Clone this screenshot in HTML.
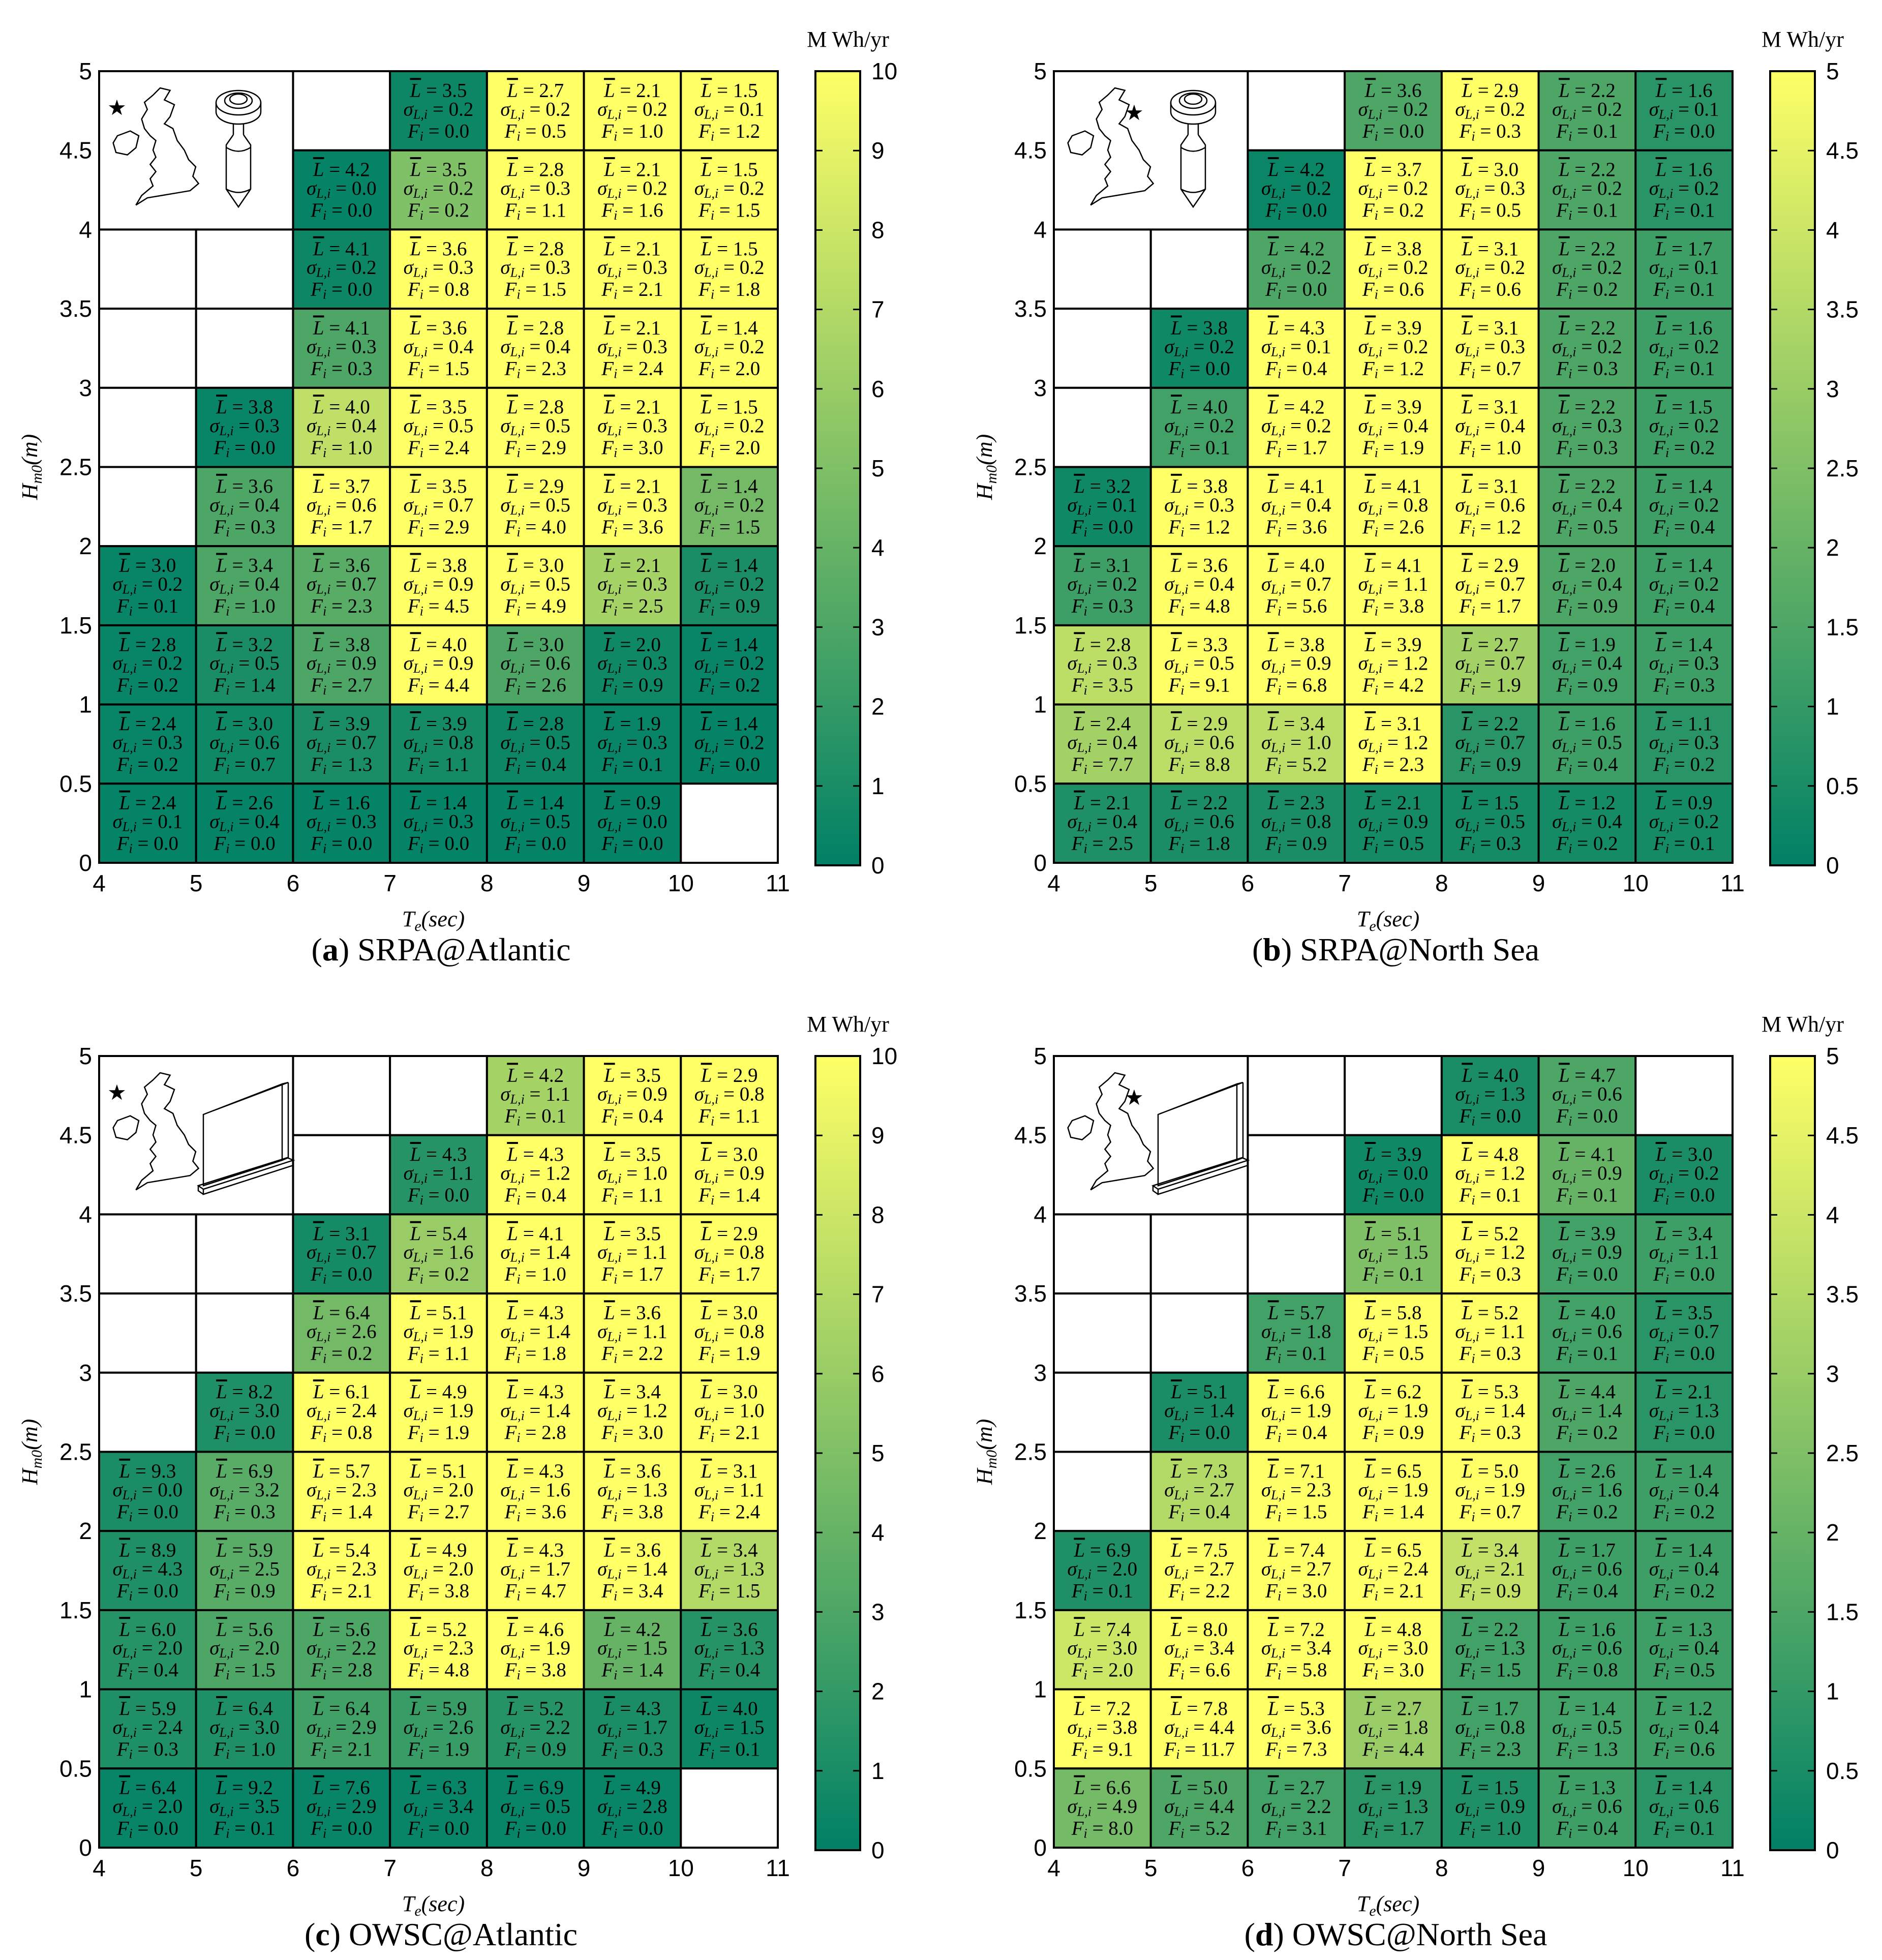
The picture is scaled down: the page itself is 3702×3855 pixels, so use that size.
<!DOCTYPE html>
<html><head><meta charset="utf-8">
<style>
html,body{margin:0;padding:0;background:#fff;}
svg{display:block;}
.tick{font-family:"Liberation Sans",sans-serif;font-size:46px;fill:#000;}
.cell{font-family:"Liberation Serif",serif;font-size:39px;fill:#000;}
.ax{font-family:"Liberation Serif",serif;font-size:44px;font-style:italic;fill:#000;}
.cap{font-family:"Liberation Serif",serif;font-size:64px;fill:#000;}
</style></head>
<body>
<svg id="fig" width="3702" height="3855" viewBox="0 0 3702 3855" xmlns="http://www.w3.org/2000/svg"></svg>
<script>
// rows top (Hm0 4.5-5) to bottom (0-0.5), columns Te 4..11 ; null = no data
const aL=[[null,null,null,3.5,2.7,2.1,1.5],[null,null,4.2,3.5,2.8,2.1,1.5],[null,null,4.1,3.6,2.8,2.1,1.5],[null,null,4.1,3.6,2.8,2.1,1.4],[null,3.8,4.0,3.5,2.8,2.1,1.5],[null,3.6,3.7,3.5,2.9,2.1,1.4],[3.0,3.4,3.6,3.8,3.0,2.1,1.4],[2.8,3.2,3.8,4.0,3.0,2.0,1.4],[2.4,3.0,3.9,3.9,2.8,1.9,1.4],[2.4,2.6,1.6,1.4,1.4,0.9,null]];
const aS=[[null,null,null,0.2,0.2,0.2,0.1],[null,null,0.0,0.2,0.3,0.2,0.2],[null,null,0.2,0.3,0.3,0.3,0.2],[null,null,0.3,0.4,0.4,0.3,0.2],[null,0.3,0.4,0.5,0.5,0.3,0.2],[null,0.4,0.6,0.7,0.5,0.3,0.2],[0.2,0.4,0.7,0.9,0.5,0.3,0.2],[0.2,0.5,0.9,0.9,0.6,0.3,0.2],[0.3,0.6,0.7,0.8,0.5,0.3,0.2],[0.1,0.4,0.3,0.3,0.5,0.0,null]];
const aF=[[null,null,null,0.0,0.5,1.0,1.2],[null,null,0.0,0.2,1.1,1.6,1.5],[null,null,0.0,0.8,1.5,2.1,1.8],[null,null,0.3,1.5,2.3,2.4,2.0],[null,0.0,1.0,2.4,2.9,3.0,2.0],[null,0.3,1.7,2.9,4.0,3.6,1.5],[0.1,1.0,2.3,4.5,4.9,2.5,0.9],[0.2,1.4,2.7,4.4,2.6,0.9,0.2],[0.2,0.7,1.3,1.1,0.4,0.1,0.0],[0.0,0.0,0.0,0.0,0.0,0.0,null]];
const aE=[[null,null,null,0.5,10,10,10],[null,null,0.2,5,10,10,10],[null,null,0.5,10,10,10,10],[null,null,3,10,10,10,10],[null,0.3,7.5,10,10,10,10],[null,3,10,10,10,10,4.5],[0.3,3,3.5,10,10,6.5,1],[0.3,1,3,10,3,0.6,0.3],[0.3,0.6,1,0.8,0.5,0.3,0.2],[0.2,0.2,0.2,0.2,0.2,0.2,null]];

const bL=[[null,null,null,3.6,2.9,2.2,1.6],[null,null,4.2,3.7,3.0,2.2,1.6],[null,null,4.2,3.8,3.1,2.2,1.7],[null,3.8,4.3,3.9,3.1,2.2,1.6],[null,4.0,4.2,3.9,3.1,2.2,1.5],[3.2,3.8,4.1,4.1,3.1,2.2,1.4],[3.1,3.6,4.0,4.1,2.9,2.0,1.4],[2.8,3.3,3.8,3.9,2.7,1.9,1.4],[2.4,2.9,3.4,3.1,2.2,1.6,1.1],[2.1,2.2,2.3,2.1,1.5,1.2,0.9]];
const bS=[[null,null,null,0.2,0.2,0.2,0.1],[null,null,0.2,0.2,0.3,0.2,0.2],[null,null,0.2,0.2,0.2,0.2,0.1],[null,0.2,0.1,0.2,0.3,0.2,0.2],[null,0.2,0.2,0.4,0.4,0.3,0.2],[0.1,0.3,0.4,0.8,0.6,0.4,0.2],[0.2,0.4,0.7,1.1,0.7,0.4,0.2],[0.3,0.5,0.9,1.2,0.7,0.4,0.3],[0.4,0.6,1.0,1.2,0.7,0.5,0.3],[0.4,0.6,0.8,0.9,0.5,0.4,0.2]];
const bF=[[null,null,null,0.0,0.3,0.1,0.0],[null,null,0.0,0.2,0.5,0.1,0.1],[null,null,0.0,0.6,0.6,0.2,0.1],[null,0.0,0.4,1.2,0.7,0.3,0.1],[null,0.1,1.7,1.9,1.0,0.3,0.2],[0.0,1.2,3.6,2.6,1.2,0.5,0.4],[0.3,4.8,5.6,3.8,1.7,0.9,0.4],[3.5,9.1,6.8,4.2,1.9,0.9,0.3],[7.7,8.8,5.2,2.3,0.9,0.4,0.2],[2.5,1.8,0.9,0.5,0.3,0.2,0.1]];
const bE=[[null,null,null,1.5,5,1.5,0.8],[null,null,0.2,5,5,1.5,0.8],[null,null,1.5,5,5,1.5,1.2],[null,0.3,5,5,5,1.5,1.2],[null,1.3,5,5,5,1.5,1.2],[0.3,5,5,5,5,1.5,1.2],[1.2,5,5,5,5,1.5,1.2],[3.7,5,5,5,3.2,1.3,1.2],[3.2,3.7,3.7,5,0.8,1.2,0.8],[0.6,0.5,0.5,0.4,0.4,0.4,0.4]];

const cL=[[null,null,null,null,4.2,3.5,2.9],[null,null,null,4.3,4.3,3.5,3.0],[null,null,3.1,5.4,4.1,3.5,2.9],[null,null,6.4,5.1,4.3,3.6,3.0],[null,8.2,6.1,4.9,4.3,3.4,3.0],[9.3,6.9,5.7,5.1,4.3,3.6,3.1],[8.9,5.9,5.4,4.9,4.3,3.6,3.4],[6.0,5.6,5.6,5.2,4.6,4.2,3.6],[5.9,6.4,6.4,5.9,5.2,4.3,4.0],[6.4,9.2,7.6,6.3,6.9,4.9,null]];
const cS=[[null,null,null,null,1.1,0.9,0.8],[null,null,null,1.1,1.2,1.0,0.9],[null,null,0.7,1.6,1.4,1.1,0.8],[null,null,2.6,1.9,1.4,1.1,0.8],[null,3.0,2.4,1.9,1.4,1.2,1.0],[0.0,3.2,2.3,2.0,1.6,1.3,1.1],[4.3,2.5,2.3,2.0,1.7,1.4,1.3],[2.0,2.0,2.2,2.3,1.9,1.5,1.3],[2.4,3.0,2.9,2.6,2.2,1.7,1.5],[2.0,3.5,2.9,3.4,0.5,2.8,null]];
const cF=[[null,null,null,null,0.1,0.4,1.1],[null,null,null,0.0,0.4,1.1,1.4],[null,null,0.0,0.2,1.0,1.7,1.7],[null,null,0.2,1.1,1.8,2.2,1.9],[null,0.0,0.8,1.9,2.8,3.0,2.1],[0.0,0.3,1.4,2.7,3.6,3.8,2.4],[0.0,0.9,2.1,3.8,4.7,3.4,1.5],[0.4,1.5,2.8,4.8,3.8,1.4,0.4],[0.3,1.0,2.1,1.9,0.9,0.3,0.1],[0.0,0.1,0.0,0.0,0.0,0.0,null]];
const cE=[[null,null,null,null,6.5,10,10],[null,null,null,1.5,10,10,10],[null,null,0.8,6,10,10,10],[null,null,4.5,10,10,10,10],[null,1.2,10,10,10,10,10],[1,3.5,10,10,10,10,10],[1.2,3.5,10,10,10,10,7],[1.5,3,3,10,10,4,1.5],[1.2,1.2,2.5,2.2,1.5,1,0.5],[0.3,0.3,0.3,0.3,0.3,0.3,null]];

const dL=[[null,null,null,null,4.0,4.7,null],[null,null,null,3.9,4.8,4.1,3.0],[null,null,null,5.1,5.2,3.9,3.4],[null,null,5.7,5.8,5.2,4.0,3.5],[null,5.1,6.6,6.2,5.3,4.4,2.1],[null,7.3,7.1,6.5,5.0,2.6,1.4],[6.9,7.5,7.4,6.5,3.4,1.7,1.4],[7.4,8.0,7.2,4.8,2.2,1.6,1.3],[7.2,7.8,5.3,2.7,1.7,1.4,1.2],[6.6,5.0,2.7,1.9,1.5,1.3,1.4]];
const dS=[[null,null,null,null,1.3,0.6,null],[null,null,null,0.0,1.2,0.9,0.2],[null,null,null,1.5,1.2,0.9,1.1],[null,null,1.8,1.5,1.1,0.6,0.7],[null,1.4,1.9,1.9,1.4,1.4,1.3],[null,2.7,2.3,1.9,1.9,1.6,0.4],[2.0,2.7,2.7,2.4,2.1,0.6,0.4],[3.0,3.4,3.4,3.0,1.3,0.6,0.4],[3.8,4.4,3.6,1.8,0.8,0.5,0.4],[4.9,4.4,2.2,1.3,0.9,0.6,0.6]];
const dF=[[null,null,null,null,0.0,0.0,null],[null,null,null,0.0,0.1,0.1,0.0],[null,null,null,0.1,0.3,0.0,0.0],[null,null,0.1,0.5,0.3,0.1,0.0],[null,0.0,0.4,0.9,0.3,0.2,0.0],[null,0.4,1.5,1.4,0.7,0.2,0.2],[0.1,2.2,3.0,2.1,0.9,0.4,0.2],[2.0,6.6,5.8,3.0,1.5,0.8,0.5],[9.1,11.7,7.3,4.4,2.3,1.3,0.6],[8.0,5.2,3.1,1.7,1.0,0.4,0.1]];
const dE=[[null,null,null,null,0.5,1.5,null],[null,null,null,0.3,5,2,0.5],[null,null,null,2.5,5,1.3,1.2],[null,null,1.3,5,5,1.3,0.8],[null,0.5,5,5,5,1.5,0.8],[null,3.5,5,5,5,1.3,1.2],[0.6,5,5,5,3.8,1.2,1.2],[4,5,5,5,1.3,1.2,1.2],[5,5,5,3,1.3,1.3,1.2],[2.3,1.5,1.3,0.8,0.6,1.2,0.8]];

const cbTicksA=[0,1,2,3,4,5,6,7,8,9,10];
const cbTicksB=[0,0.5,1,1.5,2,2.5,3,3.5,4,4.5,5];
const xTicks=[4,5,6,7,8,9,10,11];
const yTicks=[0,0.5,1,1.5,2,2.5,3,3.5,4,4.5,5];

const NS="http://www.w3.org/2000/svg";
const svg=document.getElementById('fig');
function mk(tag,attrs,parent){const e=document.createElementNS(NS,tag);for(const k in attrs)e.setAttribute(k,attrs[k]);(parent||svg).appendChild(e);return e;}
function summer(t){t=Math.max(0,Math.min(1,t));return `rgb(${Math.round(255*t)},${Math.round(128+127*t)},102)`;}

const panels=[
 {id:'a',x0:195,y0:140,L:aL,S:aS,F:aF,E:aE,max:10,ticks:cbTicksA,cap:'SRPA@Atlantic',dev:'srpa',star:'west'},
 {id:'b',x0:2073,y0:140,L:bL,S:bS,F:bF,E:bE,max:5,ticks:cbTicksB,cap:'SRPA@North Sea',dev:'srpa',star:'east'},
 {id:'c',x0:195,y0:2077,L:cL,S:cS,F:cF,E:cE,max:10,ticks:cbTicksA,cap:'OWSC@Atlantic',dev:'owsc',star:'west'},
 {id:'d',x0:2073,y0:2077,L:dL,S:dS,F:dF,E:dE,max:5,ticks:cbTicksB,cap:'OWSC@North Sea',dev:'owsc',star:'east'}
];
const W=1335,H=1557;

panels.forEach(p=>{
  const g=mk('g',{});
  
  
  const sx=v=>p.x0+(v-4)/7*W;
  const sy=v=>p.y0+H-(v/5)*H;
  const cw=W/7,ch=H/10;
  for(let r=0;r<10;r++)for(let c=0;c<7;c++){
    const hi=5-r*0.5, te=4+c;
    const x=sx(te), y=sy(hi);
    if(r<2&&c<2)continue;
    const v=p.L[r][c];
    const rect=mk('rect',{x:x,y:y,width:cw,height:ch,fill:v===null?'#fff':summer(p.E[r][c]/p.max),stroke:'#000','stroke-width':4},g);
    
    
    if(v===null)continue;
    const cx=x+cw/2;
    const t1=mk('text',{x:cx,y:y+ch*0.24+13,'text-anchor':'middle',class:'cell'},g);
    t1.innerHTML='<tspan font-style="italic" text-decoration="overline">L</tspan> = '+v.toFixed(1);
    
    
    const t2=mk('text',{x:cx,y:y+ch*0.49+11,'text-anchor':'middle',class:'cell'},g);
    t2.innerHTML='<tspan font-style="italic">σ</tspan><tspan font-style="italic" font-size="26" dy="6">L,i</tspan><tspan dy="-6"> = '+p.S[r][c].toFixed(1)+'</tspan>';
    
    
    const t3=mk('text',{x:cx,y:y+ch*0.76+12,'text-anchor':'middle',class:'cell'},g);
    t3.innerHTML='<tspan font-style="italic">F</tspan><tspan font-style="italic" font-size="26" dy="6">i</tspan><tspan dy="-6"> = '+p.F[r][c].toFixed(1)+'</tspan>';
    
    
  }
  const bx=sx(4), by=sy(5);
  const ib=mk('rect',{x:bx,y:by,width:2*cw,height:2*ch,fill:'#fff',stroke:'#000','stroke-width':4},g);
  
  
  const mx=bx+22, my=by+33, msx=2.8, msy=2.35;
  const gb=[[35,0],[42,2],[38,10],[45,14],[42,24],[38,30],[44,34],[47,44],[52,52],[55,60],[60,66],[58,74],[62,80],[56,86],[46,88],[36,90],[26,92],[18,98],[22,90],[30,82],[28,76],[32,70],[28,64],[32,58],[30,52],[32,44],[28,40],[24,34],[22,26],[26,18],[24,12],[30,6]];
  const ir=[[5,40],[14,36],[20,40],[18,50],[12,56],[4,54],[2,46]];
  const pts=a=>a.map(q=>(mx+q[0]*msx)+','+(my+q[1]*msy)).join(' ');
  const m1=mk('polygon',{points:pts(gb),fill:'none',stroke:'#000','stroke-width':2.5},g);
  
  
  mk('polygon',{points:pts(ir),fill:'none',stroke:'#000','stroke-width':2.5},g);
  const stx=p.star==='west'?bx+35:bx+158, sty=p.star==='west'?by+72:by+82;
  const st=mk('text',{x:stx,y:sty+14,'text-anchor':'middle','font-size':42,'font-family':'DejaVu Sans'},g);
  st.textContent='★';
  
  
  const dg=mk('g',{fill:'none',stroke:'#000','stroke-width':2.5},g);
  
  
  if(p.dev==='srpa'){
    const dx=bx+274, dy=by;
    mk('path',{d:`M${dx-44},${dy+62} L${dx-44},${dy+80} A44 24 0 0 0 ${dx+44},${dy+80} L${dx+44},${dy+62}`},dg);
    mk('ellipse',{cx:dx,cy:dy+62,rx:44,ry:24},dg);
    mk('ellipse',{cx:dx,cy:dy+58,rx:27,ry:15},dg);
    mk('ellipse',{cx:dx,cy:dy+55,rx:17,ry:10},dg);
    mk('path',{d:`M${dx-10},${dy+103} L${dx-10},${dy+125} M${dx+10},${dy+103} L${dx+10},${dy+125} M${dx-10},${dy+125} L${dx-24},${dy+145} L${dx-24},${dy+232} L${dx},${dy+267} L${dx+24},${dy+232} L${dx+24},${dy+145} L${dx+10},${dy+125} M${dx-24},${dy+150} Q${dx},${dy+165} ${dx+24},${dy+150} M${dx-24},${dy+232} Q${dx},${dy+245} ${dx+24},${dy+232}`},dg);
  } else {
    mk('path',{d:`M${bx+205},${by+115} L${bx+360},${by+55} L${bx+360},${by+205} L${bx+205},${by+255} Z M${bx+205},${by+115} L${bx+218},${by+110} L${bx+372},${by+52} L${bx+360},${by+55} M${bx+372},${by+52} L${bx+372},${by+200} L${bx+360},${by+205} M${bx+195},${by+255} L${bx+370},${by+200} L${bx+382},${by+205} L${bx+205},${by+262} Z M${bx+205},${by+262} L${bx+205},${by+272} L${bx+382},${by+215} L${bx+382},${by+205} M${bx+195},${by+255} L${bx+195},${by+265} L${bx+205},${by+272}`},dg);
  }
  const fr=mk('rect',{x:p.x0,y:p.y0,width:W,height:H,fill:'none',stroke:'#000','stroke-width':4},g);
  
  
  xTicks.forEach(t=>{const e=mk('text',{x:sx(t),y:p.y0+H+56,'text-anchor':'middle',class:'tick'},g);e.textContent=t;
    });
  yTicks.forEach(t=>{const e=mk('text',{x:p.x0-14,y:sy(t)+16,'text-anchor':'end',class:'tick'},g);e.textContent=t;
    });
  const xl=mk('text',{x:p.x0+W/2-10,y:p.y0+H+125,'text-anchor':'middle',class:'ax'},g);
  xl.innerHTML='T<tspan font-size="30" dy="9">e</tspan><tspan dy="-9">(sec)</tspan>';
  
  const yx=p.x0-122, yy=p.y0+H/2;
  const yl=mk('text',{x:yx,y:yy,'text-anchor':'middle',class:'ax',transform:`rotate(-90 ${yx} ${yy})`},g);
  yl.innerHTML='H<tspan font-size="30" dy="9">m0</tspan><tspan dy="-9">(m)</tspan>';
  
  const cap=mk('text',{x:p.x0+W/2+5,y:p.y0+H+192,'text-anchor':'middle',class:'cap'},g);
  cap.innerHTML='(<tspan font-weight="bold">'+p.id+'</tspan>) '+p.cap;
  
  const cbx=p.x0+W+74, cbw=88, cby=p.y0, cbh=H+5;
  const gid='grad'+p.id;
  const defs=mk('defs',{},g);
  const lg=mk('linearGradient',{id:gid,x1:0,y1:1,x2:0,y2:0},defs);
  mk('stop',{offset:0,'stop-color':summer(0)},lg);
  mk('stop',{offset:1,'stop-color':summer(1)},lg);
  const cb=mk('rect',{x:cbx,y:cby,width:cbw,height:cbh,fill:`url(#${gid})`,stroke:'#000','stroke-width':4},g);
  
  p.ticks.forEach(t=>{const yv=cby+cbh-t/p.max*cbh;
    mk('line',{x1:cbx,x2:cbx+14,y1:yv,y2:yv,stroke:'#000','stroke-width':3},g);
    mk('line',{x1:cbx+cbw-14,x2:cbx+cbw,y1:yv,y2:yv,stroke:'#000','stroke-width':3},g);
    const e=mk('text',{x:cbx+cbw+22,y:yv+16,class:'tick'},g);e.textContent=t;
    });
  const u=mk('text',{x:cbx+cbw/2+20,y:p.y0-48,'text-anchor':'middle','font-family':'Liberation Serif, serif','font-size':44},g);
  u.textContent='M Wh/yr';
  
});
</script>
</body></html>
